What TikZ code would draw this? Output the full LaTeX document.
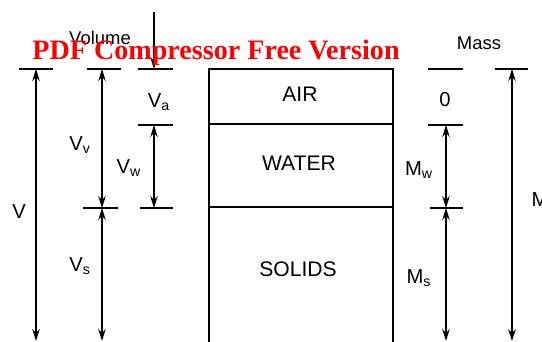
\documentclass[tikz,border=0pt]{standalone}
\usepackage{fontspec}
\setmainfont{Liberation Sans}
\newfontfamily\wmfont{Liberation Serif}
\usepackage{xcolor}
\usetikzlibrary{arrows.meta,positioning}

\begin{document}
\begin{tikzpicture}[x=0.02cm, y=-0.02cm,
    phase/.style ={font=\fontsize{12}{14}\selectfont},
    dimlbl/.style={font=\fontsize{11.5}{13}\selectfont},
    head/.style  ={font=\fontsize{10.5}{12}\selectfont},
    tk/.style    ={line width=0.8pt},
    dim/.style   ={{Stealth[length=2.4mm,width=1.5mm]}-{Stealth[length=2.4mm,width=1.5mm]}, line width=0.7pt},
    dimone/.style={-{Stealth[length=2.4mm,width=1.5mm]}, line width=0.7pt}
]
\useasboundingbox (0,0) rectangle (542,342);
\clip (0,0) rectangle (542,342);

% Phase diagram box
\draw[line width=0.8pt] (209,69) rectangle (393,124);
\draw[line width=0.8pt] (209,124) rectangle (393,207);
\draw[line width=0.8pt] (209,207) -- (209,350) (393,207) -- (393,350);
\node[phase] (air)    at (300,94)  {AIR};
\node[phase] (water)  at (299,163) {WATER};
\node[phase] (solids) at (298,269) {SOLIDS};

% Volume side: ticks
\node[head] (vol) at (100,38) {Volume};
\draw[tk] (19,69) -- (53,69);
\draw[tk] (87,69) -- (121,69);
\draw[tk] (138,69) -- (173,69);
\draw[tk] (138,125) -- (173,125);
\draw[tk] (83,208) -- (118,208);
\draw[tk] (140,208) -- (173,208);
\coordinate (vtop)  at (36,69);   \coordinate (vbot)  at (36,341);
\coordinate (vvtop) at (102,69);  \coordinate (vvbot) at (102,208);
\coordinate (vsbot) at (102,341);
\coordinate (vafree) at (154,12); \coordinate (vatop) at (154,69);
\coordinate (vwtop) at (154,125); \coordinate (vwbot) at (154,208);

% Volume side: arrows
\draw[dim] (vtop) -- (vbot);
\draw[dim] (vvtop) -- (vvbot);
\draw[dim] (vvbot) -- (vsbot);
\draw[dimone] (vafree) -- (vatop);
\draw[dim] (vwtop) -- (vwbot);
\node[dimlbl] (V)  at (19,212)  {V};
\node[dimlbl] (Vv) at (80,145)  {V\textsubscript{v}};
\node[dimlbl] (Vs) at (80,266)  {V\textsubscript{s}};
\node[dimlbl] (Va) at (159,102) {V\textsubscript{a}};
\node[dimlbl] (Vw) at (129,168) {V\textsubscript{w}};

% Mass side: ticks
\node[head] (mass) at (479,43) {Mass};
\draw[tk] (428,69) -- (463,69);
\draw[tk] (495,69) -- (528,69);
\draw[tk] (428,125) -- (463,125);
\draw[tk] (430,208) -- (463,208);
\coordinate (mwtop) at (446,125); \coordinate (mwbot) at (446,208);
\coordinate (msbot) at (446,341);
\coordinate (mtop)  at (512,69);  \coordinate (mbot)  at (512,341);

% Mass side: arrows
\draw[dim] (mwtop) -- (mwbot);
\draw[dim] (mwbot) -- (msbot);
\draw[dim] (mtop) -- (mbot);
\node[dimlbl] (zero) at (445,100) {0};
\node[dimlbl] (Mw) at (419,170) {M\textsubscript{w}};
\node[dimlbl] (Ms) at (419,278) {M\textsubscript{s}};
\node[dimlbl] (M)  at (540,200) {M};

% Watermark
\node[anchor=base, text=red, font=\wmfont\bfseries\fontsize{16}{18}\selectfont] (wm) at (216,59) {PDF Compressor Free Version};
\end{tikzpicture}
\end{document}
